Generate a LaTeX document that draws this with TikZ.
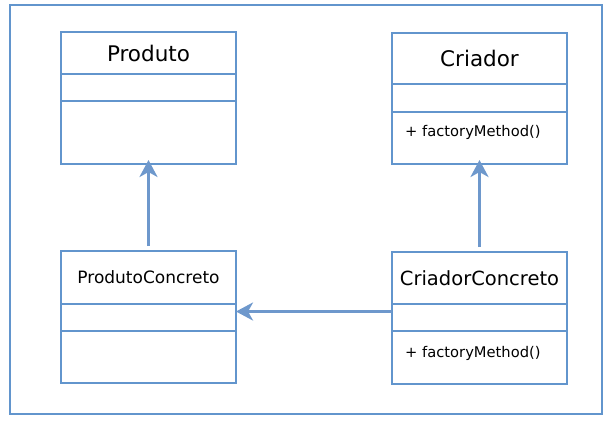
\documentclass[tikz,border=0pt]{standalone}
\usepackage{fontspec}
\setmainfont{DejaVu Sans}
\usetikzlibrary{positioning,arrows.meta}
\definecolor{umlblue}{RGB}{98,149,205}
\definecolor{linkblue}{RGB}{110,152,204}
\tikzset{
	part/.style={draw=umlblue, line width=2.8pt, minimum width=175pt, inner sep=0pt, outer sep=0pt},
	generalize/.style={draw=linkblue, line width=3.8pt, -{Stealth[length=17pt, width=18pt, inset=5pt]}},
	optext/.style={font=\fontsize{14.7}{17}\selectfont, anchor=west, inner sep=0pt},
}

\begin{document}
\begin{tikzpicture}
	\useasboundingbox (0,0) rectangle (612pt,-429pt);
	\node[draw=umlblue, line width=2.8pt, minimum width=592pt, minimum height=409pt, inner sep=0pt] (frame) at (306pt,-209.5pt) {};
	% Produto
	\node[part, minimum height=42pt, font=\fontsize{21.5}{24}\selectfont] (P) at (148.5pt,-53pt) {Produto};
	\node[part, minimum height=27pt, below=0pt of P] (Pattr) {};
	\node[part, minimum height=63pt, below=0pt of Pattr] (Pops) {};
	% Criador
	\node[part, minimum height=51pt, font=\fontsize{21.5}{24}\selectfont] (C) at (479.5pt,-58.5pt) {Criador};
	\node[part, minimum height=28pt, below=0pt of C] (Cattr) {};
	\node[part, minimum height=52pt, below=0pt of Cattr] (Cops) {};
	\node[optext] (Cop) at ([xshift=13pt,yshift=6pt]Cops.west) {+ factoryMethod()};
	% ProdutoConcreto
	\node[part, minimum height=53pt, font=\fontsize{17}{20}\selectfont] (PC) at (148.5pt,-277.5pt) {ProdutoConcreto};
	\node[part, minimum height=27pt, below=0pt of PC] (PCattr) {};
	\node[part, minimum height=52pt, below=0pt of PCattr] (PCops) {};
	% CriadorConcreto
	\node[part, minimum height=52pt, font=\fontsize{19.5}{22}\selectfont] (CC) at (479.5pt,-278pt) {CriadorConcreto};
	\node[part, minimum height=27pt, below=0pt of CC] (CCattr) {};
	\node[part, minimum height=53pt, below=0pt of CCattr] (CCops) {};
	\node[optext] (CCop) at ([xshift=13pt,yshift=4pt]CCops.west) {+ factoryMethod()};
	% heranca
	\draw[generalize, shorten <=5pt, shorten >=-4pt] (PC.north) -- (Pops.south);
	\draw[generalize, shorten <=5pt, shorten >=-4pt] (CC.north) -- (Cops.south);
	\draw[generalize] ([yshift=6pt]CCattr.west) -- ([yshift=6pt]PCattr.east);
\end{tikzpicture}
\end{document}
